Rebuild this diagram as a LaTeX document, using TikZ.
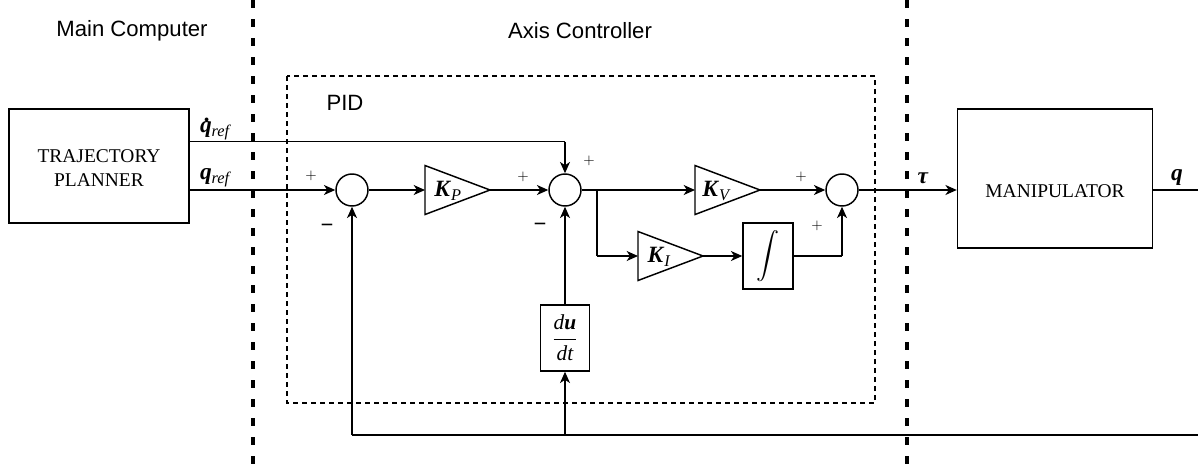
\documentclass[tikz,border=0pt]{standalone}
\usepackage{amsmath}
\usepackage{fontspec}
\setmainfont{Liberation Serif}
\newfontfamily\arialf{Liberation Sans}
\usetikzlibrary{arrows.meta,calc}
\newcommand{\bi}[1]{\textbf{\textit{#1}}}
\newcommand{\sub}[1]{\textsubscript{\itshape #1}}
\tikzset{
  wire/.style={draw, line width=1.1pt},
  sig/.style={wire, -{Stealth[length=8.5pt,width=7.5pt,inset=2.5pt]}},
  sumnode/.style={circle, draw, line width=1.1pt, minimum size=24pt, inner sep=0pt},
  blk/.style={rectangle, draw, line width=1.1pt, inner sep=0pt},
  gain/.style={draw, line width=1.1pt, line join=miter},
  sepline/.style={line width=2.3pt, dash pattern=on 6pt off 8.25pt},
  pidbox/.style={line width=0.8pt, dash pattern=on 3.75pt off 3pt},
  sgn/.style={font=\fontsize{11}{12}\selectfont, inner sep=0pt},
  msgn/.style={font=\bfseries\fontsize{17}{17}\selectfont, inner sep=0pt},
  lbl/.style={font=\fontsize{17.5}{19}\selectfont, inner sep=0pt},
  head/.style={font=\arialf\fontsize{16.6}{18}\selectfont, inner sep=0pt},
  boxtxt/.style={font=\fontsize{14.6}{17.5}\selectfont, align=center, inner sep=0pt}
}
\begin{document}
\begin{tikzpicture}[x=0.75pt,y=-0.75pt]
\useasboundingbox (0,0) rectangle (1198,465);
% separators and PID box
\coordinate (sepLt) at (253,0); \coordinate (sepLb) at (253,465);
\coordinate (sepRt) at (907,0); \coordinate (sepRb) at (907,465);
\draw[sepline] (sepLt) -- (sepLb);
\draw[sepline] (sepRt) -- (sepRb);
\draw[pidbox] (287,76) rectangle (875,403);
\node[head] (hmc) at (132,31) {Main Computer};
\node[head] (hac) at (580,31) {Axis Controller};
\node[head] (hpid) at (345,103) {PID};
% blocks
\node[blk, minimum width=135pt, minimum height=85.5pt] (tp) at (99,166) {};
\node[boxtxt] (tptxt) at (99,168) {TRAJECTORY\\PLANNER};
\node[blk, minimum width=146.25pt, minimum height=104.25pt] (man) at (1055,178.5) {};
\node[boxtxt] (mantxt) at (1055,191) {MANIPULATOR};
\node[sumnode] (s1) at (352,190) {};
\node[sumnode] (s2) at (565,190) {};
\node[sumnode] (s3) at (842,190) {};
\node[blk, minimum width=36.75pt, minimum height=49.5pt, font=\fontsize{16}{18}\selectfont] (dd) at (565,338) {$\dfrac{\textit{d}\bi{u}}{\textit{dt}}$};
\node[blk, minimum width=37.5pt, minimum height=49.5pt] (int) at (768,256) {\fontsize{17}{20}\selectfont$\displaystyle\int$};
% gains
\coordinate (kpin) at (425,190); \coordinate (kpout) at (490,190);
\coordinate (kvin) at (695,190); \coordinate (kvout) at (760,190);
\coordinate (kiin) at (638,256); \coordinate (kiout) at (703,256);
\draw[gain] ($(kpin)+(0,-24.5)$) -- (kpout) -- ($(kpin)+(0,24.5)$) -- cycle;
\draw[gain] ($(kvin)+(0,-24.5)$) -- (kvout) -- ($(kvin)+(0,24.5)$) -- cycle;
\draw[gain] ($(kiin)+(0,-24.5)$) -- (kiout) -- ($(kiin)+(0,24.5)$) -- cycle;
\node[lbl] (kp) at (448,191) {\bi{K}\sub{P}};
\node[lbl] (kv) at (716,191) {\bi{K}\sub{V}};
\node[lbl] (ki) at (659,257) {\bi{K}\sub{I}};
% reference signals
\coordinate (tpq) at (tp.east |- s1);
\coordinate (tpqd) at ($(tp.east)+(0,-24.5)$);
\coordinate (qdc) at (s2 |- tpqd);
\draw[wire] (tpqd) -- (qdc);
\draw[sig] (qdc) -- (s2.north);
\draw[sig] (tpq) -- (s1.west);
\node[lbl] (lqd) at (215,129) {\bi{\rlap{\hspace{0.2em}\raisebox{0.46em}{.}}q}\sub{ref}};
\node[lbl] (lq) at (215,178) {\bi{q}\sub{ref}};
% forward path
\draw[sig] (s1.east) -- (kpin);
\draw[sig] (kpout) -- (s2.west);
\draw[sig] (s2.east) -- (kvin);
\coordinate (br) at (597,190);
\coordinate (brd) at (597,256);
\draw[wire] (br) -- (brd);
\draw[sig] (brd) -- (kiin);
\draw[sig] (kiout) -- (int.west);
\coordinate (intc) at (s3 |- int.east);
\draw[wire] (int.east) -- (intc);
\draw[sig] (intc) -- (s3.south);
\draw[sig] (kvout) -- (s3.west);
\draw[sig] (s3.east) -- (man.west |- s3);
\coordinate (qout) at (1198,190);
\draw[wire] (man.east |- s3) -- (qout);
\node[lbl] (ltau) at (923,178) {\bi{τ}};
\node[lbl] (lqo) at (1177,177) {\bi{q}};
% feedback
\coordinate (fbr) at (1198,435);
\coordinate (fb1) at (352,435);
\coordinate (fb2) at (565,435);
\draw[wire] (fbr) -- (fb1);
\draw[sig] (fb1) -- (s1.south);
\draw[sig] (fb2) -- (dd.south);
\draw[sig] (dd.north) -- (s2.south);
% signs
\node[sgn] (p1) at (311,176) {$+$};
\node[msgn] (m1) at (327,228) {−};
\node[sgn] (p2) at (523,177) {$+$};
\node[sgn] (p2b) at (589,161) {$+$};
\node[msgn] (m2) at (540,227) {−};
\node[sgn] (p3) at (801,177) {$+$};
\node[sgn] (p3b) at (817,226) {$+$};
\end{tikzpicture}
\end{document}
